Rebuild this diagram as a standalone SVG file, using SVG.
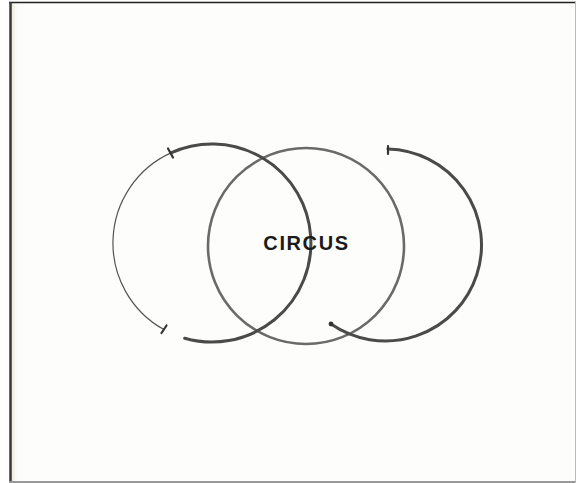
<svg xmlns="http://www.w3.org/2000/svg" width="576" height="483" viewBox="0 0 576 483">
<defs>
<linearGradient id="edge" x1="0" y1="0" x2="1" y2="0">
<stop offset="0" stop-color="#e8e4d4"/>
<stop offset="1" stop-color="#fdfdfb" stop-opacity="0"/>
</linearGradient>
<style>
.thick{fill:none;stroke:#4a4a4a;stroke-width:3;stroke-linecap:round}
.mid{fill:none;stroke:#6a6a6a;stroke-width:2.6}
.thin{fill:none;stroke:#555;stroke-width:1.2;stroke-linecap:round}
.tick{fill:none;stroke:#333;stroke-width:2.2;stroke-linecap:round}
.lbl{font-family:"Liberation Sans",Arial,sans-serif;font-weight:bold;font-size:20px;fill:#1a1a1a;letter-spacing:1.6px}
</style>
</defs>
<rect x="0" y="0" width="576" height="483" fill="#fdfdfb"/>
<rect x="0" y="0" width="9" height="483" fill="#ffffff"/>
<rect x="11" y="3" width="8" height="478" fill="url(#edge)"/>
<line x1="9" y1="2.5" x2="576" y2="2.5" stroke="#222" stroke-width="1.5"/>
<line x1="10.5" y1="2" x2="10.5" y2="483" stroke="#3a3a3a" stroke-width="2.5"/>
<line x1="9" y1="482" x2="576" y2="482" stroke="#999" stroke-width="2"/>
<line x1="575.5" y1="2" x2="575.5" y2="483" stroke="#bbb" stroke-width="1"/>
<g id="circle-middle">
<circle class="mid" cx="306" cy="246" r="98"/>
</g>
<g id="connectors">
<path id="left-thick" class="thick" d="M170.9,152.9 A99,99 0 1 1 184.7,338.2"/>
<path id="left-thin" class="thin" d="M170.9,152.9 A99,99 0 0 0 164,329.6"/>
<line class="tick" x1="168" y1="148.5" x2="173" y2="157.5"/>
<line class="tick" x1="161.5" y1="333" x2="166.5" y2="325.5"/>
<path id="right-arc" class="thick" d="M388,149 A96,96 0 1 1 331,324"/>
<line class="tick" x1="388" y1="146" x2="388" y2="154" stroke-width="3"/>
<circle cx="331" cy="324" r="2.4" fill="#333"/>
</g>
<g id="label">
<text class="lbl" x="306.5" y="250" text-anchor="middle">CIRCUS</text>
</g>
</svg>
